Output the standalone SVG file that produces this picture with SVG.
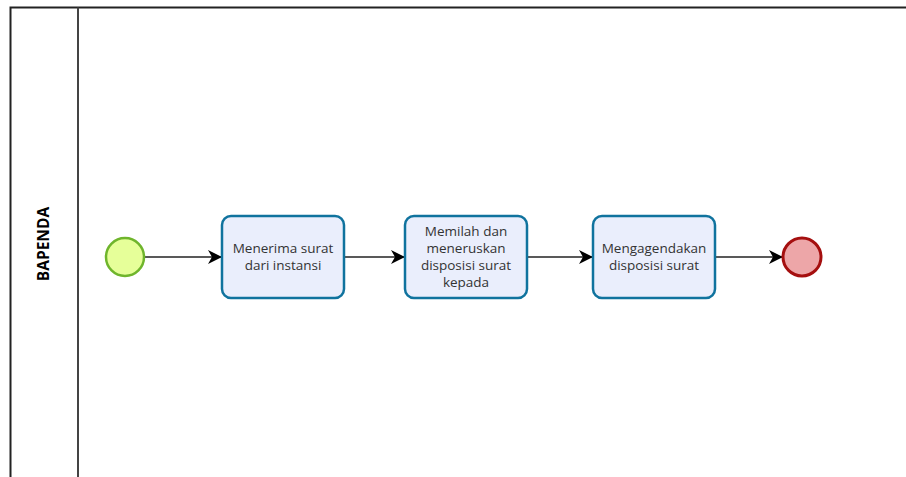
<svg xmlns="http://www.w3.org/2000/svg" width="906" height="477" viewBox="0 0 906 477">
<defs>
<style>
.pool{fill:none;stroke:#222;stroke-width:2}
.task rect{fill:#eaeefc;stroke:#10739e;stroke-width:2.5}
.task text,.lbl{font-family:"Open Sans","Noto Sans",sans-serif;font-size:13.5px;fill:#333;text-anchor:middle}
.conn{stroke:#222;stroke-width:1.5;fill:none;marker-end:url(#arr)}
</style>
<marker id="arr" viewBox="0 0 14 14" refX="13" refY="7" markerWidth="14" markerHeight="14" markerUnits="userSpaceOnUse" orient="auto">
<path d="M0,0 L14,7 L0,14 L4,7 Z" fill="#000"/>
</marker>
</defs>
<g id="pool">
<path class="pool" d="M10.5,480 V7.5 H910"/>
<line x1="78" y1="7.5" x2="78" y2="480" stroke="#444" stroke-width="2"/>
<text x="49" y="244" transform="rotate(-90 49 244)" style="font-family:'Open Sans','Noto Sans',sans-serif;font-size:15.5px;font-weight:bold;fill:#000;text-anchor:middle">BAPENDA</text>
</g>
<g id="connectors">
<line class="conn" x1="145" y1="257" x2="221" y2="257"/>
<line class="conn" x1="345" y1="257" x2="404" y2="257"/>
<line class="conn" x1="528" y1="257" x2="592" y2="257"/>
<line class="conn" x1="716" y1="257" x2="782" y2="257"/>
</g>
<g id="start"><circle cx="125" cy="257" r="19" fill="#e6ff99" stroke="#6fb52c" stroke-width="2.5"/></g>
<g id="task1" class="task"><rect x="222" y="216" width="122" height="82" rx="9"/>
<text x="283" y="253">Menerima surat</text><text x="283" y="270">dari instansi</text></g>
<g id="task2" class="task"><rect x="405" y="216" width="122" height="82" rx="9"/>
<text x="466" y="236">Memilah dan</text><text x="466" y="253">meneruskan</text><text x="466" y="270">disposisi surat</text><text x="466" y="287">kepada</text></g>
<g id="task3" class="task"><rect x="593" y="216" width="122" height="82" rx="9"/>
<text x="654" y="253">Mengagendakan</text><text x="654" y="270">disposisi surat</text></g>
<g id="end"><circle cx="802" cy="257" r="19" fill="#eda6a8" stroke="#a50f0f" stroke-width="3"/></g>
</svg>
